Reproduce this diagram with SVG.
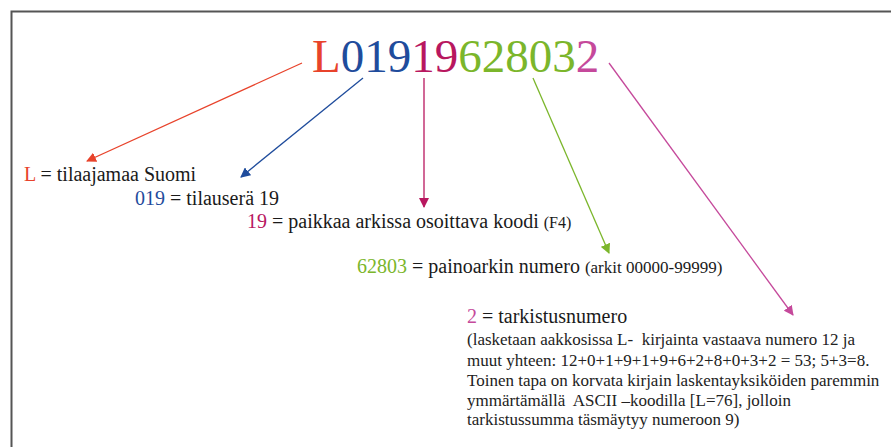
<svg xmlns="http://www.w3.org/2000/svg" width="891" height="447" viewBox="0 0 891 447">
<defs>
<marker id="mr" viewBox="0 0 10 10" refX="9" refY="5" markerWidth="10" markerHeight="10" markerUnits="userSpaceOnUse" orient="auto"><path d="M0,0L10,5L0,10z" fill="#e8432b"/></marker>
<marker id="mb" viewBox="0 0 10 10" refX="9" refY="5" markerWidth="10" markerHeight="10" markerUnits="userSpaceOnUse" orient="auto"><path d="M0,0L10,5L0,10z" fill="#1f4c9c"/></marker>
<marker id="mc" viewBox="0 0 10 10" refX="9" refY="5" markerWidth="10" markerHeight="10" markerUnits="userSpaceOnUse" orient="auto"><path d="M0,0L10,5L0,10z" fill="#b8175f"/></marker>
<marker id="mg" viewBox="0 0 10 10" refX="9" refY="5" markerWidth="10" markerHeight="10" markerUnits="userSpaceOnUse" orient="auto"><path d="M0,0L10,5L0,10z" fill="#7bb62b"/></marker>
<marker id="mp" viewBox="0 0 10 10" refX="9" refY="5" markerWidth="10" markerHeight="10" markerUnits="userSpaceOnUse" orient="auto"><path d="M0,0L10,5L0,10z" fill="#c5499b"/></marker>
</defs>
<rect width="891" height="447" fill="#fff"/>
<path d="M11.5,447V11.5H891" fill="none" stroke="#555" stroke-width="2"/>
<g id="code">
<text x="312" y="72" font-size="47" font-family="Liberation Serif"><tspan fill="#e8432b">L</tspan><tspan fill="#1f4c9c">019</tspan><tspan fill="#b8175f">19</tspan><tspan fill="#7bb62b">62803</tspan><tspan fill="#c5499b">2</tspan></text>
</g>
<g id="connectors" fill="none" stroke-width="1.3">
<line x1="302" y1="63" x2="87" y2="161" stroke="#e8432b" marker-end="url(#mr)"/>
<line x1="363" y1="78" x2="241" y2="177" stroke="#1f4c9c" marker-end="url(#mb)"/>
<line x1="424" y1="78" x2="424" y2="207" stroke="#b8175f" marker-end="url(#mc)"/>
<line x1="533" y1="78" x2="609" y2="253" stroke="#7bb62b" marker-end="url(#mg)"/>
<line x1="609" y1="63" x2="793" y2="315" stroke="#c5499b" marker-end="url(#mp)"/>
</g>
<g id="n-L"><text x="24" y="181" font-size="20" font-family="Liberation Serif" fill="#1a1a1a"><tspan fill="#e8432b">L</tspan> = tilaajamaa Suomi</text></g>
<g id="n-019"><text x="135" y="205" font-size="20" font-family="Liberation Serif" fill="#1a1a1a"><tspan fill="#1f4c9c">019</tspan> = tilauserä 19</text></g>
<g id="n-19"><text x="247" y="228" font-size="20" font-family="Liberation Serif" fill="#1a1a1a"><tspan fill="#b8175f">19</tspan> = paikkaa arkissa osoittava koodi <tspan font-size="16">(F4)</tspan></text></g>
<g id="n-62803"><text x="357" y="273" font-size="20" font-family="Liberation Serif" fill="#1a1a1a"><tspan fill="#7bb62b">62803</tspan> = painoarkin numero <tspan font-size="17">(arkit 00000-99999)</tspan></text></g>
<g id="n-2">
<text x="467" y="323" font-size="20" font-family="Liberation Serif" fill="#1a1a1a"><tspan fill="#c5499b">2</tspan> = tarkistusnumero</text>
<text x="467" y="345" font-size="17" font-family="Liberation Serif" fill="#222">(lasketaan aakkosissa L-&#160; kirjainta vastaava numero 12 ja</text>
<text x="467" y="366" font-size="17" font-family="Liberation Serif" fill="#222">muut yhteen: 12+0+1+9+1+9+6+2+8+0+3+2 = 53; 5+3=8.</text>
<text x="467" y="386" font-size="17" font-family="Liberation Serif" fill="#222">Toinen tapa on korvata kirjain laskentayksiköiden paremmin</text>
<text x="467" y="406" font-size="17" font-family="Liberation Serif" fill="#222">ymmärtämällä&#160; ASCII –koodilla [L=76], jolloin</text>
<text x="467" y="425" font-size="17" font-family="Liberation Serif" fill="#222">tarkistussumma täsmäytyy numeroon 9)</text>
</g>
</svg>
